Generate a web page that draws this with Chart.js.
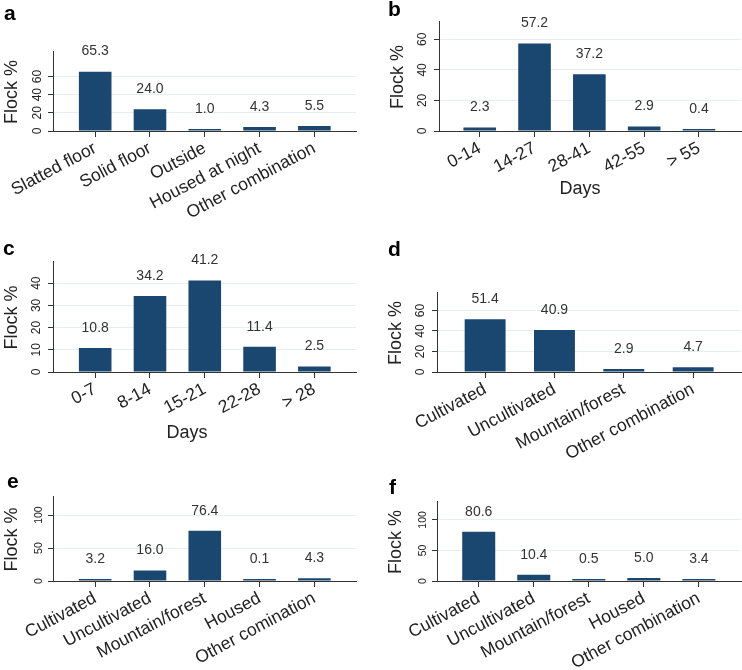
<!DOCTYPE html>
<html>
<head>
<meta charset="utf-8">
<script src="https://cdn.jsdelivr.net/npm/chart.js@4.4.1/dist/chart.umd.min.js"></script>
<style>
    html, body { margin: 0; padding: 0; background: #fff; }
    #wrap { position: relative; width: 742px; height: 670px; overflow: hidden; }
    #wrap canvas { position: absolute; }
</style>
</head>
<body>
<div id="wrap">
    <canvas id="pa" width="371" height="223" style="left:0;top:0"></canvas>
    <canvas id="pb" width="371" height="223" style="left:371px;top:0"></canvas>
    <canvas id="pc" width="371" height="250" style="left:0;top:223px"></canvas>
    <canvas id="pd" width="371" height="250" style="left:371px;top:223px"></canvas>
    <canvas id="pe" width="371" height="224" style="left:0;top:446px"></canvas>
    <canvas id="pf" width="371" height="224" style="left:371px;top:446px"></canvas>
</div>
<script>
var FONT = '"Liberation Sans", Arial, sans-serif';
var BAR = '#1a476f';
var INK = '#222';

// a - housing
var housingCats  = ['Slatted floor', 'Solid floor', 'Outside', 'Housed at night', 'Other combination'];
var housingVals  = [65.3, 24.0, 1.0, 4.3, 5.5];
var housingTicks = [0, 20, 40, 60];

// b - days (14 day bands)
var bandCatsB  = ['0-14', '14-27', '28-41', '42-55', '> 55'];
var bandValsB  = [2.3, 57.2, 37.2, 2.9, 0.4];
var bandTicksB = [0, 20, 40, 60];

// c - days (7 day bands)
var bandCatsC  = ['0-7', '8-14', '15-21', '22-28', '> 28'];
var bandValsC  = [10.8, 34.2, 41.2, 11.4, 2.5];
var bandTicksC = [0, 10, 20, 30, 40];

// d - grazing land
var landCatsD  = ['Cultivated', 'Uncultivated', 'Mountain/forest', 'Other combination'];
var landValsD  = [51.4, 40.9, 2.9, 4.7];
var landTicksD = [0, 20, 40, 60];

// e
var landCatsE  = ['Cultivated', 'Uncultivated', 'Mountain/forest', 'Housed', 'Other comination'];
var landValsE  = [3.2, 16.0, 76.4, 0.1, 4.3];
var landTicksE = [0, 50, 100];

// f
var landCatsF  = ['Cultivated', 'Uncultivated', 'Mountain/forest', 'Housed', 'Other combination'];
var landValsF  = [80.6, 10.4, 0.5, 5.0, 3.4];
var landTicksF = [0, 50, 100];

// layout of each panel (canvas-relative pixels)
var panels = [
    { id: 'pa', letter: 'a', cats: housingCats, vals: housingVals, ticks: housingTicks, yMax: 88,
      w: 371, h: 223, left: 53, top: 51, right: 356, base: 131, xMin: -0.77, xMax: 4.76, barPct: 0.595,
      tickFont: 12, tickGap: 15, letterX: 4, letterY: 20 },
    { id: 'pb', letter: 'b', cats: bandCatsB, vals: bandValsB, ticks: bandTicksB, yMax: 72,
      w: 371, h: 223, left: 68, top: 21, right: 370, base: 131, xMin: -0.743, xMax: 4.767, barPct: 0.595,
      tickFont: 12, tickGap: 16, letterX: 17, letterY: 16, xTitle: 'Days', xTitleX: 209, xTitleY: 189 },
    { id: 'pc', letter: 'c', cats: bandCatsC, vals: bandValsC, ticks: bandTicksC, yMax: 50,
      w: 371, h: 250, left: 53, top: 38, right: 356, base: 149, xMin: -0.77, xMax: 4.76, barPct: 0.595,
      tickFont: 12, tickGap: 16, letterX: 3, letterY: 32, xTitle: 'Days', xTitleX: 187, xTitleY: 210 },
    { id: 'pd', letter: 'd', cats: landCatsD, vals: landValsD, ticks: landTicksD, yMax: 78,
      w: 371, h: 250, left: 66, top: 69, right: 370, base: 149, xMin: -0.694, xMax: 3.69, barPct: 0.59,
      tickFont: 12, tickGap: 16, letterX: 17, letterY: 33 },
    { id: 'pe', letter: 'e', cats: landCatsE, vals: landValsE, ticks: landTicksE, yMax: 129,
      w: 371, h: 224, left: 53, top: 50, right: 356, base: 135, xMin: -0.77, xMax: 4.76, barPct: 0.595,
      tickFont: 10.5, tickGap: 14, letterX: 7, letterY: 42 },
    { id: 'pf', letter: 'f', cats: landCatsF, vals: landValsF, ticks: landTicksF, yMax: 131,
      w: 371, h: 224, left: 66, top: 55, right: 370, base: 135, xMin: -0.758, xMax: 4.765, barPct: 0.6,
      tickFont: 10.5, tickGap: 14, letterX: 18, letterY: 48 }
];

function textPlugin(p) {
    return {
        id: 'panelText',
        afterDatasetsDraw: function (chart) {
            var ctx = chart.ctx;
            var meta = chart.getDatasetMeta(0);
            ctx.save();
            ctx.fillStyle = '#333';
            ctx.font = '14px ' + FONT;
            ctx.textAlign = 'center';
            ctx.textBaseline = 'middle';
            meta.data.forEach(function (bar, i) {
                ctx.fillText(p.vals[i].toFixed(1), bar.x, bar.y - 20);
            });
            ctx.restore();
        },
        afterDraw: function (chart) {
            var ctx = chart.ctx;
            var ys = chart.scales.y;
            var area = chart.chartArea;
            ctx.save();
            ctx.fillStyle = INK;
            ctx.textAlign = 'center';
            ctx.textBaseline = 'middle';

            // rotated y tick labels
            ctx.font = p.tickFont + 'px ' + FONT;
            ys.ticks.forEach(function (t) {
                ctx.save();
                ctx.translate(area.left - p.tickGap, ys.getPixelForValue(t.value));
                ctx.rotate(-Math.PI / 2);
                ctx.fillText(String(t.value), 0, 0);
                ctx.restore();
            });

            // y title
            ctx.font = '18px ' + FONT;
            ctx.save();
            ctx.translate(area.left - 41, (area.top + area.bottom) / 2 + 1);
            ctx.rotate(-Math.PI / 2);
            ctx.fillText('Flock %', 0, 0);
            ctx.restore();

            if (p.xTitle) ctx.fillText(p.xTitle, p.xTitleX, p.xTitleY);

            // panel letter
            ctx.font = 'bold 21px ' + FONT;
            ctx.textAlign = 'left';
            ctx.textBaseline = 'alphabetic';
            ctx.fillStyle = '#000';
            ctx.fillText(p.letter, p.letterX, p.letterY);
            ctx.restore();
        }
    };
}

panels.forEach(function (p) {
    var ctx = document.getElementById(p.id).getContext('2d');
    new Chart(ctx, {
        type: 'bar',
        data: {
            datasets: [{
                data: p.vals.map(function (v, i) { return { x: i, y: v }; }),
                backgroundColor: BAR,
                borderWidth: 0,
                minBarLength: 2,
                barPercentage: p.barPct,
                categoryPercentage: 1
            }]
        },
        options: {
            responsive: false,
            animation: false,
            layout: { padding: { top: p.top, right: p.w - p.right, left: 0, bottom: 0 } },
            plugins: {
                legend: { display: false },
                tooltip: { enabled: false }
            },
            scales: {
                x: {
                    type: 'linear',
                    min: p.xMin,
                    max: p.xMax,
                    offset: false,
                    afterBuildTicks: function (axis) {
                        axis.ticks = p.cats.map(function (c, i) { return { value: i }; });
                    },
                    afterFit: function (s) { s.height = p.h - p.base; },
                    grid: { offset: false, drawOnChartArea: false, drawTicks: true, tickLength: 6, tickColor: '#333', tickWidth: 1 },
                    border: { display: true, color: '#333', width: 1 },
                    ticks: {
                        autoSkip: false,
                        minRotation: 28,
                        maxRotation: 28,
                        padding: 1,
                        color: INK,
                        font: { family: FONT, size: 17.5 },
                        callback: function (v) { return p.cats[Math.round(v)]; }
                    }
                },
                y: {
                    min: 0,
                    max: p.yMax,
                    afterBuildTicks: function (axis) {
                        axis.ticks = p.ticks.map(function (v) { return { value: v }; });
                    },
                    afterFit: function (s) { s.width = p.left; },
                    grid: {
                        color: function (c) { return c.tick && c.tick.value === 0 ? 'rgba(0,0,0,0)' : '#e6eef0'; },
                        tickColor: '#333',
                        tickLength: 5,
                        lineWidth: 1
                    },
                    border: { display: true, color: '#333', width: 1 },
                    ticks: { display: false }
                }
            }
        },
        plugins: [textPlugin(p)]
    });
});
</script>
</body>
</html>
